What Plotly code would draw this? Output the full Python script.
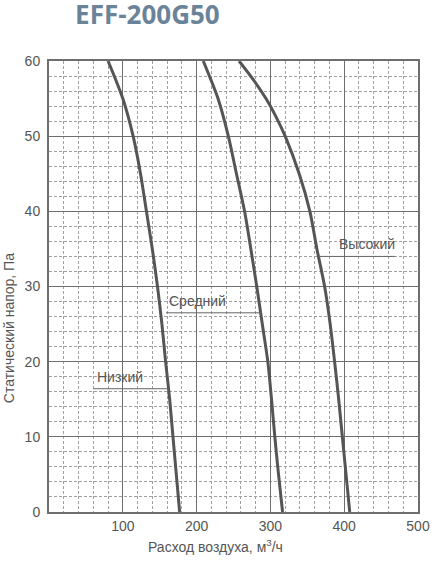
import plotly.graph_objects as go

# Fan curves EFF-200G50: air flow (m3/h) vs static pressure (Pa)
pressure = [60, 55, 50, 45, 40, 35, 30, 25, 20, 15, 10, 5, 0]
low_flow = [80, 100, 114, 124, 132, 140, 147, 153, 158, 163.5, 168, 172.5, 177]
mid_flow = [209, 229, 243, 254, 265, 273.5, 281.5, 289, 296.5, 301.5, 306, 311, 316.5]

high_pressure = [60, 57.5, 55, 52.5, 50, 45, 40, 35, 30, 25, 20, 15, 10, 5, 0]
high_flow = [257.5, 277, 294, 308, 320, 339, 353.5, 363, 373.5, 381, 387, 392.5, 397.5, 402.5, 407.5]

# label leader lines: [start_x, end_x], pressure level
labels = ["Низкий", "Средний", "Высокий"]
leader_x = [[60, 161.7], [158.5, 288], [365, 469]]
leader_y = [16.4, 26.5, 34.0]

x_ticks = [100, 200, 300, 400, 500]
y_ticks = [0, 10, 20, 30, 40, 50, 60]

CURVE = "#555555"
TEXT = "#555555"
FONT = "Liberation Sans"

fig = go.Figure()

for xs, ys in [(low_flow, pressure), (mid_flow, pressure), (high_flow, high_pressure)]:
    fig.add_trace(
        go.Scatter(
            x=xs, y=ys, mode="lines",
            line=dict(color=CURVE, width=3, shape="spline", smoothing=0.8),
            showlegend=False, hoverinfo="skip",
        )
    )

for name, lx, ly in zip(labels, leader_x, leader_y):
    fig.add_trace(
        go.Scatter(
            x=lx, y=[ly, ly], mode="lines",
            line=dict(color="#666666", width=1),
            showlegend=False, hoverinfo="skip",
        )
    )
    right = name == "Высокий"
    fig.add_annotation(
        x=lx[1] + 2 if right else lx[0] + 2, y=ly,
        text=name, showarrow=False,
        xanchor="right" if right else "left", yanchor="bottom", yshift=2,
        font=dict(family=FONT, size=14, color=TEXT),
    )

fig.update_xaxes(
    range=[0, 500], tickvals=x_ticks,
    showgrid=True, gridcolor="#6e6e6e", gridwidth=1,
    minor=dict(dtick=20, showgrid=True, gridcolor="#a0a0a0", griddash="3px,2px", gridwidth=1),
    showline=True, linecolor="#6e6e6e", linewidth=2, mirror=True,
    ticks="", zeroline=False,
    tickfont=dict(family=FONT, size=14, color=TEXT),
)
fig.update_yaxes(
    range=[0, 60], tickvals=y_ticks,
    showgrid=True, gridcolor="#6e6e6e", gridwidth=1,
    minor=dict(dtick=2, showgrid=True, gridcolor="#a0a0a0", griddash="3px,2px", gridwidth=1),
    showline=True, linecolor="#6e6e6e", linewidth=2, mirror=True,
    ticks="", zeroline=False, ticklabelstandoff=4,
    tickfont=dict(family=FONT, size=14, color=TEXT),
)

fig.add_annotation(
    xref="paper", yref="paper", x=0.263, y=-0.0754,
    text="Расход воздуха, м<sup>3</sup>/ч", showarrow=False,
    xanchor="left", yanchor="middle",
    font=dict(family=FONT, size=14, color=TEXT),
)
fig.add_annotation(
    xref="paper", yref="paper", x=-0.108, y=0.408,
    text="Статический напор, Па", showarrow=False, textangle=-90,
    xanchor="center", yanchor="middle",
    font=dict(family=FONT, size=14, color=TEXT),
)

fig.update_layout(
    width=447, height=562,
    margin=dict(l=49, r=29, t=61, b=50),
    paper_bgcolor="white", plot_bgcolor="white",
    title=dict(
        text="<b>EFF-200G50</b>", x=0.168, xanchor="left", y=0.974, yanchor="middle",
        font=dict(family="Open Sans", size=26, color="#6a8398"),
    ),
)

# drop the default 8px body margin so the figure fills the window
fig.write_html(
    "out.html",
    config={"displayModeBar": False},
    post_script="document.body.style.margin='0';",
)
